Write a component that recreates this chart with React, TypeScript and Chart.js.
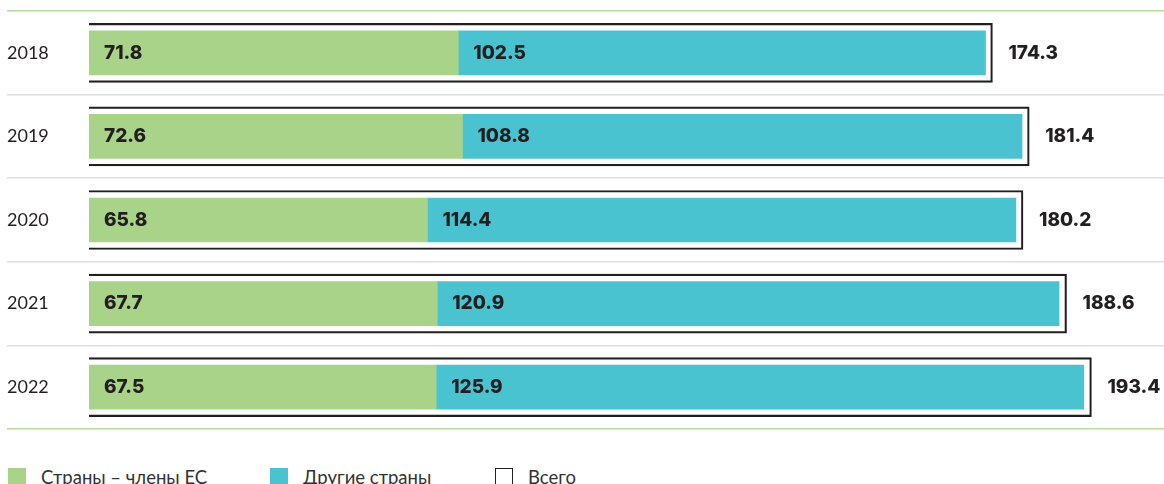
import React, { useEffect, useRef } from "react";
import { Chart, registerables } from "chart.js";

Chart.register(...registerables);

// ---- data ----
const YEARS = ["2018", "2019", "2020", "2021", "2022"];
const EU_MEMBERS = [71.8, 72.6, 65.8, 67.7, 67.5];
const OTHER_COUNTRIES = [102.5, 108.8, 114.4, 120.9, 125.9];
const TOTAL = [174.3, 181.4, 180.2, 188.6, 193.4];
const SERIES_NAMES = ["Страны – члены ЕС", "Другие страны", "Всего"];

// ---- style ----
const GREEN = "#a8d389";
const CYAN = "#4ac3d1";
const DARK = "#231f20";
const LINE_GREEN = "#b8dc9f";
const LINE_GRAY = "#dedede";
const FONT = "Lato, 'DejaVu Sans', sans-serif";
const NUM_FONT = "Inter, Lato, 'DejaVu Sans', sans-serif";
const X_MAX = 209;
const TOTAL_BOX_SCALE = 1.0077;

const fmt = (v: number) => v.toFixed(1);

const barLabels = {
  id: "barLabels",
  afterDatasetsDraw(chart: any) {
    const ctx = chart.ctx;
    ctx.save();
    ctx.font = `800 19px ${NUM_FONT}`;
    ctx.fillStyle = DARK;
    ctx.textBaseline = "middle";
    ctx.textAlign = "left";
    chart.data.datasets.forEach((ds: any, di: number) => {
      const meta = chart.getDatasetMeta(di);
      meta.data.forEach((el: any, i: number) => {
        const { x, y, base } = el.getProps(["x", "y", "base"], true);
        const tx = ds.isTotal ? x + 16 : base + 15;
        ctx.fillText(fmt(ds.data[i]), tx, y);
      });
    });
    ctx.restore();
  },
};

export default function App() {
  const ref = useRef<HTMLCanvasElement | null>(null);

  useEffect(() => {
    if (!ref.current) return;
    const chart = new Chart(ref.current, {
      type: "bar",
      data: {
        labels: YEARS,
        datasets: [
          {
            label: SERIES_NAMES[0],
            data: EU_MEMBERS,
            backgroundColor: GREEN,
            borderWidth: 0,
            stack: "parts",
            grouped: false,
            barThickness: 44,
            xAxisID: "x",
            yAxisID: "y",
          } as any,
          {
            label: SERIES_NAMES[1],
            data: OTHER_COUNTRIES,
            backgroundColor: CYAN,
            borderWidth: 0,
            stack: "parts",
            grouped: false,
            barThickness: 44,
            xAxisID: "x",
            yAxisID: "y",
          } as any,
          {
            label: SERIES_NAMES[2],
            data: TOTAL,
            isTotal: true,
            backgroundColor: "rgba(255,255,255,0)",
            borderColor: DARK,
            borderWidth: 1.5,
            borderSkipped: "start",
            stack: "total",
            grouped: false,
            barThickness: 59,
            xAxisID: "xTotal",
            yAxisID: "y",
          } as any,
        ],
      },
      options: {
        indexAxis: "y",
        responsive: false,
        animation: false,
        layout: { padding: { left: 7, top: 11, right: 0, bottom: 11 } },
        plugins: {
          legend: { display: false },
          tooltip: { enabled: false },
        },
        scales: {
          x: { type: "linear", display: false, min: 0, max: X_MAX, stacked: true },
          xTotal: {
            type: "linear",
            axis: "x",
            position: "bottom",
            display: false,
            min: 0,
            max: X_MAX / TOTAL_BOX_SCALE,
          },
          y: {
            type: "category",
            offset: true,
            border: { display: false },
            grid: {
              offset: true,
              lineWidth: 1.5,
              tickLength: 82,
              color: (c: any) =>
                c.type !== "tick" || c.index === 0 ? LINE_GREEN : LINE_GRAY,
            },
            ticks: {
              crossAlign: "far",
              padding: 0,
              color: DARK,
              font: { size: 18, family: FONT },
            },
            afterFit: (s: any) => {
              s.width = 82;
            },
          },
        } as any,
      },
      plugins: [barLabels],
    });
    return () => chart.destroy();
  }, []);

  const legendItems = [
    { name: SERIES_NAMES[0], left: 8, fill: GREEN, border: "none" },
    { name: SERIES_NAMES[1], left: 270, fill: CYAN, border: "none" },
    { name: SERIES_NAMES[2], left: 495, fill: "#fff", border: `1.5px solid ${DARK}` },
  ];

  return (
    <div
      style={{
        position: "absolute",
        left: 0,
        top: 0,
        width: 1164,
        height: 484,
        overflow: "hidden",
        background: "#fff",
      }}
    >
      <canvas ref={ref} width={1164} height={440} style={{ display: "block" }} />
      {legendItems.map((it) => (
        <div
          key={it.name}
          style={{
            position: "absolute",
            top: 468,
            left: it.left,
            display: "flex",
            alignItems: "flex-start",
            gap: 15,
            fontFamily: FONT,
            fontSize: 18.5,
            lineHeight: "18px",
            color: "#333",
            whiteSpace: "nowrap",
          }}
        >
          <span
            style={{
              display: "inline-block",
              width: 18,
              height: 18,
              boxSizing: "border-box",
              background: it.fill,
              border: it.border,
            }}
          />
          <span>{it.name}</span>
        </div>
      ))}
    </div>
  );
}
